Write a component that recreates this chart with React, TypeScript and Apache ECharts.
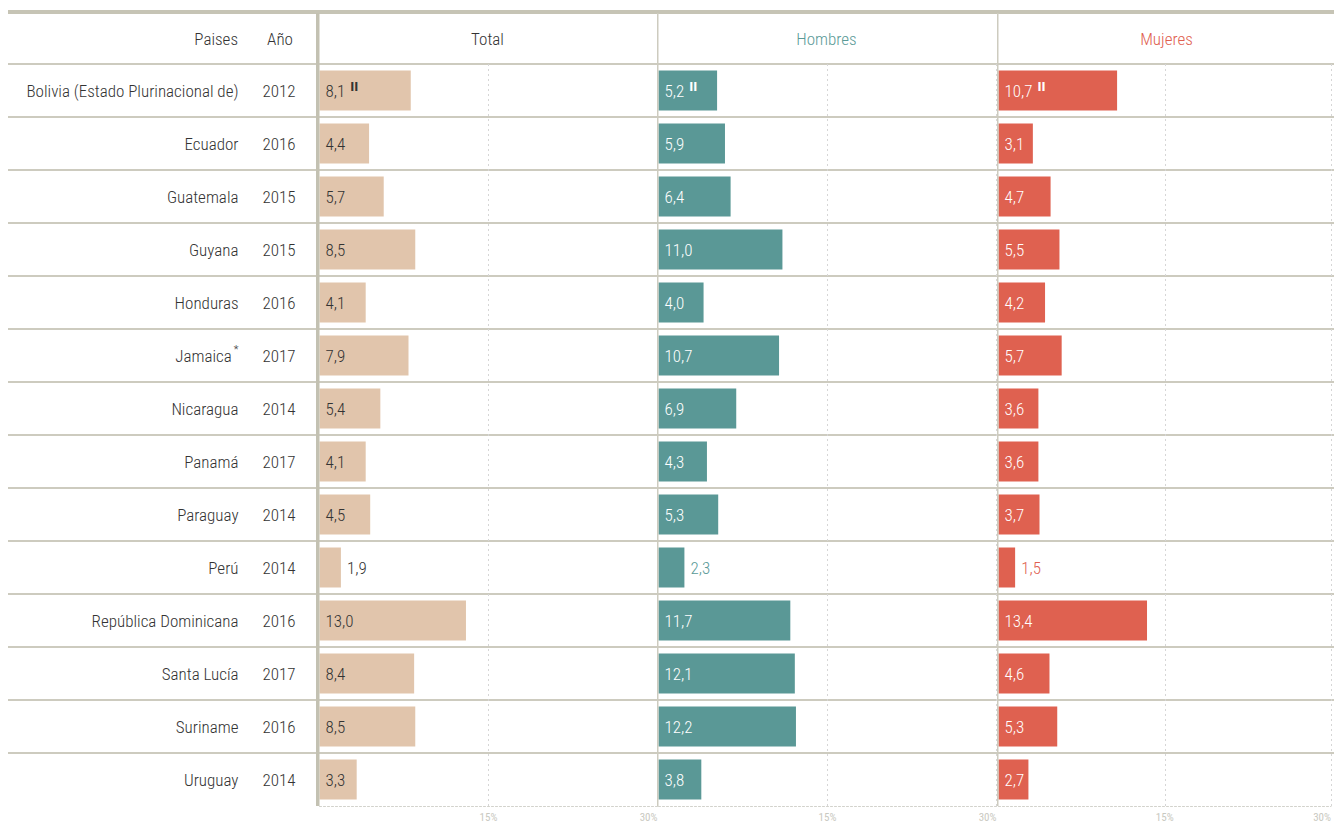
import React, { useEffect, useRef } from 'react';
import * as echarts from 'echarts';

const countries = [
  'Bolivia (Estado Plurinacional de)', 'Ecuador', 'Guatemala', 'Guyana', 'Honduras', 'Jamaica',
  'Nicaragua', 'Panamá', 'Paraguay', 'Perú', 'República Dominicana', 'Santa Lucía', 'Suriname', 'Uruguay',
];
const years = ['2012', '2016', '2015', '2015', '2016', '2017', '2014', '2017', '2014', '2014', '2016', '2017', '2016', '2014'];
const countryNotes = ['', '', '', '', '', '*', '', '', '', '', '', '', '', ''];
const valueNotes = ['II', '', '', '', '', '', '', '', '', '', '', '', '', ''];
const totalValues = [8.1, 4.4, 5.7, 8.5, 4.1, 7.9, 5.4, 4.1, 4.5, 1.9, 13.0, 8.4, 8.5, 3.3];
const menValues = [5.2, 5.9, 6.4, 11.0, 4.0, 10.7, 6.9, 4.3, 5.3, 2.3, 11.7, 12.1, 12.2, 3.8];
const womenValues = [10.7, 3.1, 4.7, 5.5, 4.2, 5.7, 3.6, 3.6, 3.7, 1.5, 13.4, 4.6, 5.3, 2.7];
const panelTitles = ['Total', 'Hombres', 'Mujeres'];
const headerLabels = ['Paises', 'Año'];
const axisMax = 30;
const axisStep = 15;

const FONT = "'Roboto Condensed', 'Liberation Sans Narrow', 'DejaVu Sans Condensed', sans-serif";
const WEIGHT = 300;
const TEXT = '#333333';
const LINE = '#cdcbbf';
const panelColors = ['#e1c5ac', '#5a9896', '#df6150'];
const titleColors = ['#333333', '#5a9a97', '#e0604f'];
const insideLabelColors = ['#333333', '#ffffff', '#ffffff'];
const outsideLabelColors = ['#333333', '#5a9a97', '#e0604f'];

const PANEL_LEFT = [319.5, 658.5, 998.5];
const PANEL_W = 338;
const TOP = 64;
const PLOT_H = 742;

const fmt = (v: number) => v.toFixed(1).replace('.', ',');

export default function App() {
  const ref = useRef<HTMLDivElement>(null);
  useEffect(() => {
    document.body.style.margin = '0';
    const chart = echarts.init(ref.current!, undefined, { renderer: 'svg' });
    const seriesValues = [totalValues, menValues, womenValues];

    const grids: any[] = PANEL_LEFT.map((l) => ({ left: l, top: TOP, width: PANEL_W, height: PLOT_H }));
    grids.push({ left: 8, top: TOP, width: 1326, height: PLOT_H });

    const xAxes: any[] = PANEL_LEFT.map((_, i) => ({
      gridIndex: i,
      type: 'value',
      min: 0,
      max: axisMax,
      interval: axisStep,
      axisLine: { show: true, lineStyle: { type: [2, 2], color: '#d2d2cc', width: 1 } },
      axisTick: { show: false },
      splitLine: { show: true, showMinLine: false, lineStyle: { type: [2, 3], color: '#d6d6d6', width: 1 } },
      axisLabel: {
        formatter: (v: number) => (v === 0 ? '' : v + '%'),
        color: '#c9c9c1',
        fontSize: 11,
        fontFamily: FONT,
        margin: 6,
        alignMaxLabel: 'right',
      },
    }));
    xAxes.push({ gridIndex: 3, type: 'value', min: 0, max: 1, show: false });

    const yAxes: any[] = [
      {
        gridIndex: 0,
        type: 'category',
        position: 'left',
        inverse: true,
        data: countries,
        axisLine: { show: false },
        axisTick: { show: false },
        axisLabel: {
          interval: 0,
          margin: 81,
          color: TEXT,
          fontSize: 17,
          fontWeight: WEIGHT,
          fontFamily: FONT,
          formatter: (v: string, i: number) => (countryNotes[i] ? `${v}{sup|${countryNotes[i]}}` : v),
          rich: { sup: { fontSize: 11, color: TEXT, fontFamily: FONT, padding: [0, 0, 12, 2] } },
        },
      },
      {
        gridIndex: 0,
        type: 'category',
        position: 'left',
        offset: 0,
        inverse: true,
        data: countries,
        axisLine: { show: false },
        axisTick: { show: false },
        axisLabel: {
          interval: 0,
          margin: 24,
          color: TEXT,
          fontSize: 17,
          fontWeight: WEIGHT,
          fontFamily: FONT,
          formatter: (_v: string, i: number) => years[i],
        },
      },
      { gridIndex: 1, type: 'category', inverse: true, data: countries, show: false },
      { gridIndex: 2, type: 'category', inverse: true, data: countries, show: false },
      {
        gridIndex: 3,
        type: 'value',
        min: 0,
        max: countries.length,
        interval: 1,
        inverse: true,
        axisLine: { show: false },
        axisTick: { show: false },
        axisLabel: { show: false },
        splitLine: { show: true, showMaxLine: false, lineStyle: { color: LINE, width: 2 } },
      },
    ];

    const yIdx = [0, 2, 3];
    const series = seriesValues.map((vals, s) => ({
      type: 'bar',
      name: panelTitles[s],
      xAxisIndex: s,
      yAxisIndex: yIdx[s],
      barWidth: 40,
      itemStyle: { color: panelColors[s] },
      label: {
        show: true,
        position: 'insideLeft',
        distance: 6,
        color: insideLabelColors[s],
        fontSize: 17,
        fontWeight: WEIGHT,
        fontFamily: FONT,
        formatter: (p: any) => {
          const n = valueNotes[p.dataIndex];
          return n ? `${fmt(p.value)}{n|${n}}` : fmt(p.value);
        },
        rich: {
          n: { fontSize: 12, fontWeight: 'bold', color: insideLabelColors[s], padding: [0, 0, 8, 5], fontFamily: 'DejaVu Sans Condensed' },
        },
      },
      data: vals.map((v) =>
        v < 2.6
          ? { value: v, label: { position: 'right', distance: 6, color: outsideLabelColors[s] } }
          : { value: v }
      ),
    }));

    const headerY = 39;
    const headStyle = { fontSize: 17, fontWeight: WEIGHT, fontFamily: FONT, verticalAlign: 'middle', textVerticalAlign: 'middle' };
    const graphic: any[] = [
      { type: 'rect', shape: { x: 8, y: 10, width: 1326, height: 4 }, style: { fill: '#c6c4b5' }, z: 10 },
      { type: 'rect', shape: { x: 316, y: 13, width: 3.5, height: 793 }, style: { fill: '#c3c1b2' }, z: 10 },
      { type: 'rect', shape: { x: 657, y: 13, width: 1.5, height: 793 }, style: { fill: LINE }, z: 10 },
      { type: 'rect', shape: { x: 997, y: 13, width: 1.5, height: 793 }, style: { fill: LINE }, z: 10 },
      {
        type: 'text', x: 238, y: headerY,
        style: { ...headStyle, text: headerLabels[0], align: 'right', textAlign: 'right', fill: TEXT },
      },
      {
        type: 'text', x: 280, y: headerY,
        style: { ...headStyle, text: headerLabels[1], align: 'center', textAlign: 'center', fill: TEXT },
      },
      ...panelTitles.map((t, i) => ({
        type: 'text', x: PANEL_LEFT[i] + PANEL_W / 2 - 1, y: headerY,
        style: { ...headStyle, text: t, align: 'center', textAlign: 'center', fill: titleColors[i] },
      })),
    ];

    chart.setOption({
      animation: false,
      backgroundColor: '#ffffff',
      grid: grids,
      xAxis: xAxes,
      yAxis: yAxes,
      series,
      graphic,
    });
    return () => chart.dispose();
  }, []);
  return <div ref={ref} style={{ position: 'fixed', left: 0, top: 0, width: 1334, height: 825 }} />;
}
